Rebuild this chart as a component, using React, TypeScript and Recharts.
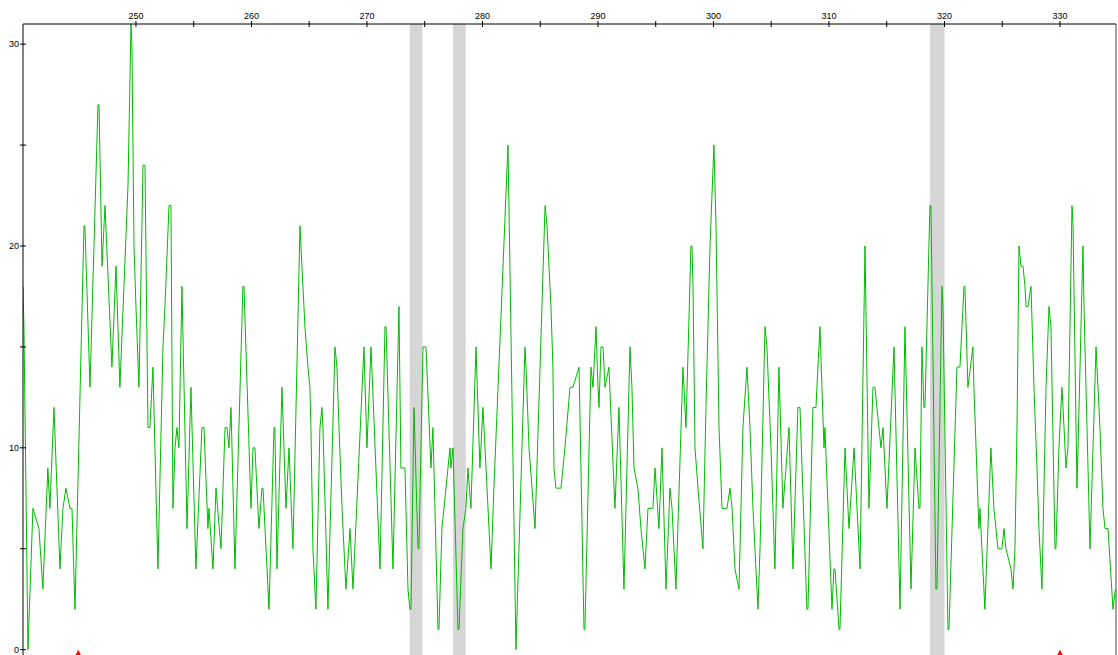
import React from "react";
import {
  ComposedChart,
  Line,
  Scatter,
  XAxis,
  YAxis,
  ReferenceArea,
  ReferenceLine,
} from "recharts";

// ---- data (position, signal) ----
const traceA: [number, number][] = [
  [240.22, 18], [240.3, 16], [240.65, 0], [241.08, 7], [241.6, 6], [241.94, 3], [242.37, 9], [242.55, 7],
  [242.9, 12], [243.42, 4], [243.68, 7], [243.94, 8], [244.29, 7], [244.46, 7], [244.72, 2], [245.5, 21],
  [245.58, 21], [246.02, 13], [246.71, 27], [246.8, 27], [247.06, 19], [247.32, 22], [247.92, 14], [248.27, 19],
  [248.61, 13], [248.96, 18], [249.31, 23], [249.57, 31],
];
const traceB: [number, number][] = [
  [249.65, 30], [249.83, 20], [250.0, 17], [250.26, 13], [250.61, 24], [250.78, 24], [251.04, 11], [251.21, 11],
  [251.47, 14], [251.9, 4], [252.34, 15], [252.51, 17], [252.86, 22], [253.03, 22], [253.2, 7], [253.38, 10],
  [253.55, 11], [253.72, 10], [253.98, 18], [254.42, 6], [254.76, 13], [255.19, 4], [255.71, 11], [255.89, 11],
  [256.23, 6], [256.32, 7], [256.67, 4], [256.93, 8], [257.36, 5], [257.71, 11], [257.88, 11], [258.05, 10],
  [258.23, 12], [258.57, 4], [259.26, 18],
];
const traceC: [number, number][] = [
  [259.35, 18], [259.96, 7], [260.13, 10], [260.3, 10], [260.65, 6], [260.91, 8], [261.0, 8], [261.52, 2],
  [261.95, 11], [262.03, 11], [262.21, 4], [262.64, 13], [262.99, 7], [263.25, 10], [263.59, 5], [264.2, 21],
  [264.37, 19], [264.63, 16], [264.89, 14], [265.06, 13], [265.15, 11], [265.32, 5], [265.58, 2], [265.93, 11],
  [266.1, 12], [266.19, 11], [266.62, 2], [267.23, 15], [267.4, 14], [267.58, 11], [267.84, 7], [268.18, 3],
  [268.53, 6], [268.79, 3],
];
const traceD: [number, number][] = [
  [269.74, 15], [270.0, 10], [270.35, 15], [271.13, 4], [271.56, 16], [271.65, 16], [272.25, 4], [272.77, 17],
  [272.94, 9], [273.29, 9], [273.55, 3], [273.72, 2], [273.81, 2], [274.07, 12], [274.42, 5], [274.5, 5],
  [274.85, 15], [275.11, 15], [275.54, 9], [275.71, 11], [276.15, 1], [276.23, 1], [276.49, 6], [276.84, 8],
  [277.19, 10], [277.27, 9], [277.45, 10], [277.88, 1], [277.97, 1], [278.31, 6],
];
const traceE: [number, number][] = [
  [278.57, 7], [278.74, 9], [279.0, 7], [279.44, 15], [279.78, 9], [280.04, 12], [280.22, 10], [280.74, 4],
  [280.99, 8], [282.21, 25], [282.9, 0], [283.68, 15], [283.77, 14], [284.03, 10], [284.55, 6], [285.42, 22],
  [285.59, 21], [285.76, 19], [285.93, 17], [286.1, 14], [286.19, 9], [286.36, 8], [286.8, 8], [287.14, 10],
  [287.58, 13], [287.84, 13],
];
const traceF: [number, number][] = [
  [288.36, 14], [288.79, 1], [288.87, 1], [289.39, 14], [289.57, 13], [289.83, 16], [290.0, 13], [290.09, 12],
  [290.26, 15], [290.44, 15], [290.61, 13], [290.95, 14], [291.47, 7], [291.82, 12], [292.25, 3], [292.77, 15],
  [292.94, 13], [293.12, 9], [293.46, 8], [293.72, 6], [294.07, 4], [294.33, 7], [294.76, 7], [294.94, 9],
  [295.28, 6], [295.54, 10], [295.89, 3], [296.23, 8], [296.41, 7], [296.75, 3], [297.36, 14],
];
const traceG: [number, number][] = [
  [297.62, 11], [298.05, 20], [298.14, 20], [298.23, 18], [298.4, 10], [298.66, 8], [299.09, 5], [299.35, 12],
  [299.7, 20], [300.04, 25], [300.22, 21], [300.48, 11], [300.74, 7], [301.17, 7], [301.43, 8], [301.61, 7],
  [301.86, 4], [302.21, 3], [302.55, 11], [302.9, 14], [303.16, 11], [303.42, 7], [303.85, 2], [304.03, 5],
  [304.46, 16], [304.63, 15], [304.98, 10], [305.32, 4], [305.67, 14], [306.01, 7], [306.54, 11], [306.88, 4],
];
const traceH: [number, number][] = [
  [307.31, 12], [307.49, 12], [308.09, 2], [308.18, 2], [308.61, 12], [308.87, 12], [309.22, 16], [309.39, 13],
  [309.57, 10], [309.65, 11], [310.26, 2], [310.43, 4], [310.52, 4], [310.87, 1], [310.95, 1], [311.39, 10],
  [311.73, 6], [312.17, 10], [312.69, 4], [313.12, 20], [313.46, 7], [313.81, 13], [313.98, 13], [314.5, 10],
  [314.68, 11], [315.02, 7], [315.63, 15], [316.15, 2],
];
const traceI: [number, number][] = [
  [316.58, 16], [317.1, 3], [317.45, 10], [317.79, 7], [317.88, 7], [318.05, 15], [318.22, 12], [318.31, 12],
  [318.74, 22], [318.83, 22], [319.26, 3], [319.35, 3], [319.78, 18], [319.87, 17], [320.3, 1], [320.39, 1],
  [321.08, 14], [321.34, 14], [321.69, 18], [321.77, 18], [322.03, 13], [322.46, 15], [322.55, 13], [322.98, 6],
  [323.07, 7], [323.5, 2], [324.02, 10], [324.28, 7], [324.63, 5], [324.97, 5], [325.15, 6], [325.32, 5],
  [325.76, 4], [325.93, 3],
];
const traceJ: [number, number][] = [
  [326.1, 5], [326.28, 11], [326.45, 20], [326.62, 19], [326.8, 19], [326.97, 18], [327.06, 17], [327.23, 17],
  [327.49, 18], [327.75, 13], [328.01, 9], [328.18, 6], [328.44, 3], [328.79, 13], [329.05, 17], [329.22, 16],
  [329.57, 5], [329.65, 5], [329.91, 10], [330.17, 13], [330.35, 11], [330.52, 9], [330.69, 10], [331.04, 22],
  [331.13, 21], [331.47, 8], [331.65, 12], [331.99, 20], [332.08, 17], [332.6, 5], [333.12, 15], [333.46, 11],
  [333.72, 7], [333.9, 6], [334.16, 6], [334.59, 2], [334.8, 3],
];

const bandStarts = [273.7, 277.45, 318.75];
const bandEnds = [274.8, 278.55, 320.0];
const markerPositions = [245, 330];
const xTicks = [250, 255, 260, 265, 270, 275, 280, 285, 290, 295, 300, 305, 310, 315, 320, 325, 330];
const yTicks = [0, 5, 10, 15, 20, 25, 30];
const xDomain: [number, number] = [240.22, 334.85];
const yDomain: [number, number] = [-2, 31];

const traceData = [
  ...traceA, ...traceB, ...traceC, ...traceD, ...traceE,
  ...traceF, ...traceG, ...traceH, ...traceI, ...traceJ,
].map(([x, y]) => ({ x, y }));
const markerData = markerPositions.map((x) => ({ x, y: 0 }));

const FONT = "'Liberation Sans', Arial, sans-serif";

const XTick = (props: any) => {
  const { x, y, payload } = props;
  const v = payload.value;
  return (
    <g>
      <line x1={x} x2={x} y1={y - 3} y2={y + 3} stroke="#000" strokeWidth={1} />
      {v % 10 === 0 && (
        <text x={x} y={y - 5} textAnchor="middle" fontSize={9} fontFamily={FONT} fill="#000">
          {v}
        </text>
      )}
    </g>
  );
};

const YTick = (props: any) => {
  const { x, y, payload } = props;
  const v = payload.value;
  return (
    <g>
      <line x1={x - 3} x2={x + 3} y1={y} y2={y} stroke="#000" strokeWidth={1} />
      {v % 10 === 0 && (
        <text x={x - 4} y={y + 3.3} textAnchor="end" fontSize={9} fontFamily={FONT} fill="#000">
          {v}
        </text>
      )}
    </g>
  );
};

const Marker = (props: any) => {
  const { cx, cy } = props;
  return <path d={`M${cx},${cy} L${cx + 5},${cy + 10} L${cx - 5},${cy + 10} Z`} fill="#ff0000" />;
};

export default function App() {
  return (
    <div
      style={{
        position: "fixed",
        left: 0,
        top: 0,
        width: 1118,
        height: 655,
        overflow: "hidden",
        background: "#fff",
      }}
    >
      <ComposedChart
        width={1118}
        height={700}
        margin={{ top: 0, right: 2, bottom: 10, left: 0 }}
      >
        {bandStarts.map((s, i) => (
          <ReferenceArea
            key={i}
            x1={s}
            x2={bandEnds[i]}
            fill="#d6d6d6"
            fillOpacity={1}
            stroke="none"
            ifOverflow="visible"
          />
        ))}
        <XAxis
          type="number"
          dataKey="x"
          orientation="top"
          domain={xDomain}
          allowDataOverflow
          ticks={xTicks}
          interval={0}
          height={24}
          tickSize={0}
          tickMargin={0}
          tickLine={false}
          axisLine={{ stroke: "#000", strokeWidth: 1 }}
          tick={<XTick />}
        />
        <YAxis
          type="number"
          dataKey="y"
          domain={yDomain}
          allowDataOverflow
          ticks={yTicks}
          interval={0}
          width={23}
          tickSize={0}
          tickMargin={0}
          tickLine={false}
          axisLine={{ stroke: "#000", strokeWidth: 1 }}
          tick={<YTick />}
        />
        <ReferenceLine x={xDomain[1]} stroke="#444" strokeWidth={1} ifOverflow="visible" />
        <Line
          data={traceData}
          dataKey="y"
          type="linear"
          stroke="#00bb00"
          strokeWidth={1}
          dot={false}
          activeDot={false}
          isAnimationActive={false}
        />
        <Scatter
          data={markerData}
          dataKey="y"
          shape={<Marker />}
          isAnimationActive={false}
        />
      </ComposedChart>
    </div>
  );
}
